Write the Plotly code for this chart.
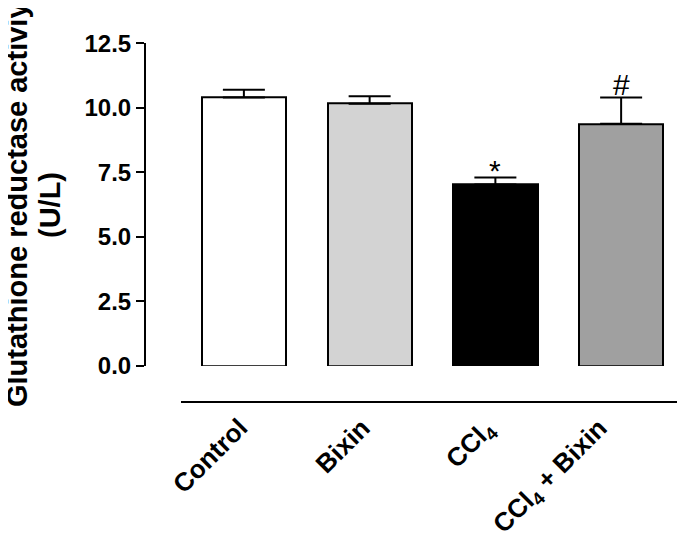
import plotly.graph_objects as go

# ---- data ----
categories = ["Control", "Bixin", "CCl<sub>4</sub>", "CCl<sub>4</sub> + Bixin"]
means = [10.40, 10.16, 7.03, 9.38]
sem = [0.30, 0.29, 0.27, 1.02]
bar_colors = ["#ffffff", "#d3d3d3", "#000000", "#a0a0a0"]
significance = ["", "", "*", "#"]
y_ticks = [0.0, 2.5, 5.0, 7.5, 10.0, 12.5]
y_title_lines = ["Glutathione reductase activiy", "(U/L)"]

W, H = 685, 543
OFF = 8  # default page body margin in the browser
FONT = "Liberation Sans, Arial, sans-serif"


def px(x):
    return (x - OFF) / W


def py(y):
    return 1 - (y - OFF) / H


fig = go.Figure()
fig.add_trace(go.Bar(
    x=categories,
    y=means,
    width=0.67,
    marker=dict(color=bar_colors, line=dict(color="black", width=2)),
    error_y=dict(type="data", array=sem, arrayminus=[0] * len(sem), symmetric=False,
                 color="black", thickness=2, width=21),
    showlegend=False,
))

for cat, m, e, s in zip(categories, means, sem, significance):
    if s:
        fig.add_annotation(
            x=cat, y=m + e, xref="x", yref="y", text=s, showarrow=False,
            yanchor="bottom", yshift=(-11 if s == "*" else -5),
            font=dict(family=FONT, size=30, color="black"),
        )

# rotated category labels below the detached x-axis line
label_dx = [12, 9, 10, -3]
for cat, dx in zip(categories, label_dx):
    fig.add_annotation(
        x=cat, y=py(410), xref="x", yref="paper", text=cat, showarrow=False,
        textangle=-45, xanchor="right", yanchor="top", xshift=dx,
        font=dict(family=FONT, size=26, color="black", weight="bold"),
    )

# y-axis title, two rotated lines
for line, cx in zip(y_title_lines, [17, 50]):
    fig.add_annotation(
        x=px(cx), y=py(205), xref="paper", yref="paper",
        text=line, textangle=-90, showarrow=False,
        xanchor="center", yanchor="middle",
        font=dict(family=FONT, size=29, color="black", weight="bold"),
    )

fig.update_layout(
    template="none",
    width=W, height=H,
    margin=dict(l=0, r=0, t=0, b=0),
    paper_bgcolor="white", plot_bgcolor="white",
    bargap=0,
    xaxis=dict(
        type="category", range=[-0.5, 3.5], domain=[px(181), px(684)],
        anchor="free", position=py(402),
        showline=True, linewidth=2, linecolor="black",
        ticks="", showticklabels=False, showgrid=False, zeroline=False, automargin=False,
    ),
    yaxis=dict(
        range=[0, 12.5], domain=[py(366), py(43.3)],
        anchor="free", position=px(145),
        showline=True, linewidth=2, linecolor="black",
        ticks="outside", ticklen=8, tickwidth=2, tickcolor="black",
        tickvals=y_ticks, ticktext=[f"{v:.1f}" for v in y_ticks],
        showgrid=False, zeroline=False, automargin=False,
        tickfont=dict(family=FONT, size=24, color="black", weight="bold"),
    ),
)

fig.write_html("out.html")
